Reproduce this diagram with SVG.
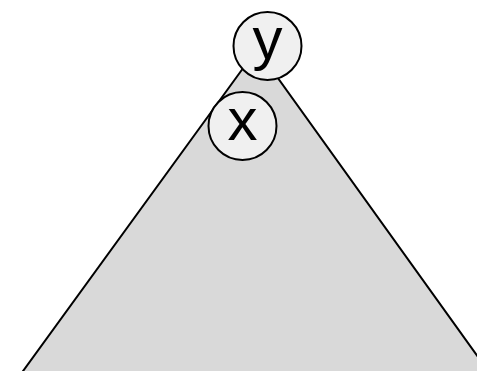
<svg xmlns="http://www.w3.org/2000/svg" width="477" height="371" viewBox="0 0 477 371">
<style>
.node circle{fill:#f0f0f0;stroke:#000;stroke-width:2}
.node text{font-family:"Liberation Sans",Arial,sans-serif;font-size:60px;fill:#000;text-anchor:middle}
</style>
<rect width="477" height="371" fill="#fff"/>
<g id="subtree">
<polygon points="257,49 2,400 509,400" fill="#d9d9d9" stroke="#000" stroke-width="2"/>
</g>
<g id="connectors"/>
<g id="node-x" class="node">
<circle cx="242.5" cy="126" r="34"/>
<text x="242.5" y="140">x</text>
</g>
<g id="node-y" class="node">
<circle cx="267.5" cy="46" r="34"/>
<text x="267.5" y="59">y</text>
</g>
</svg>
